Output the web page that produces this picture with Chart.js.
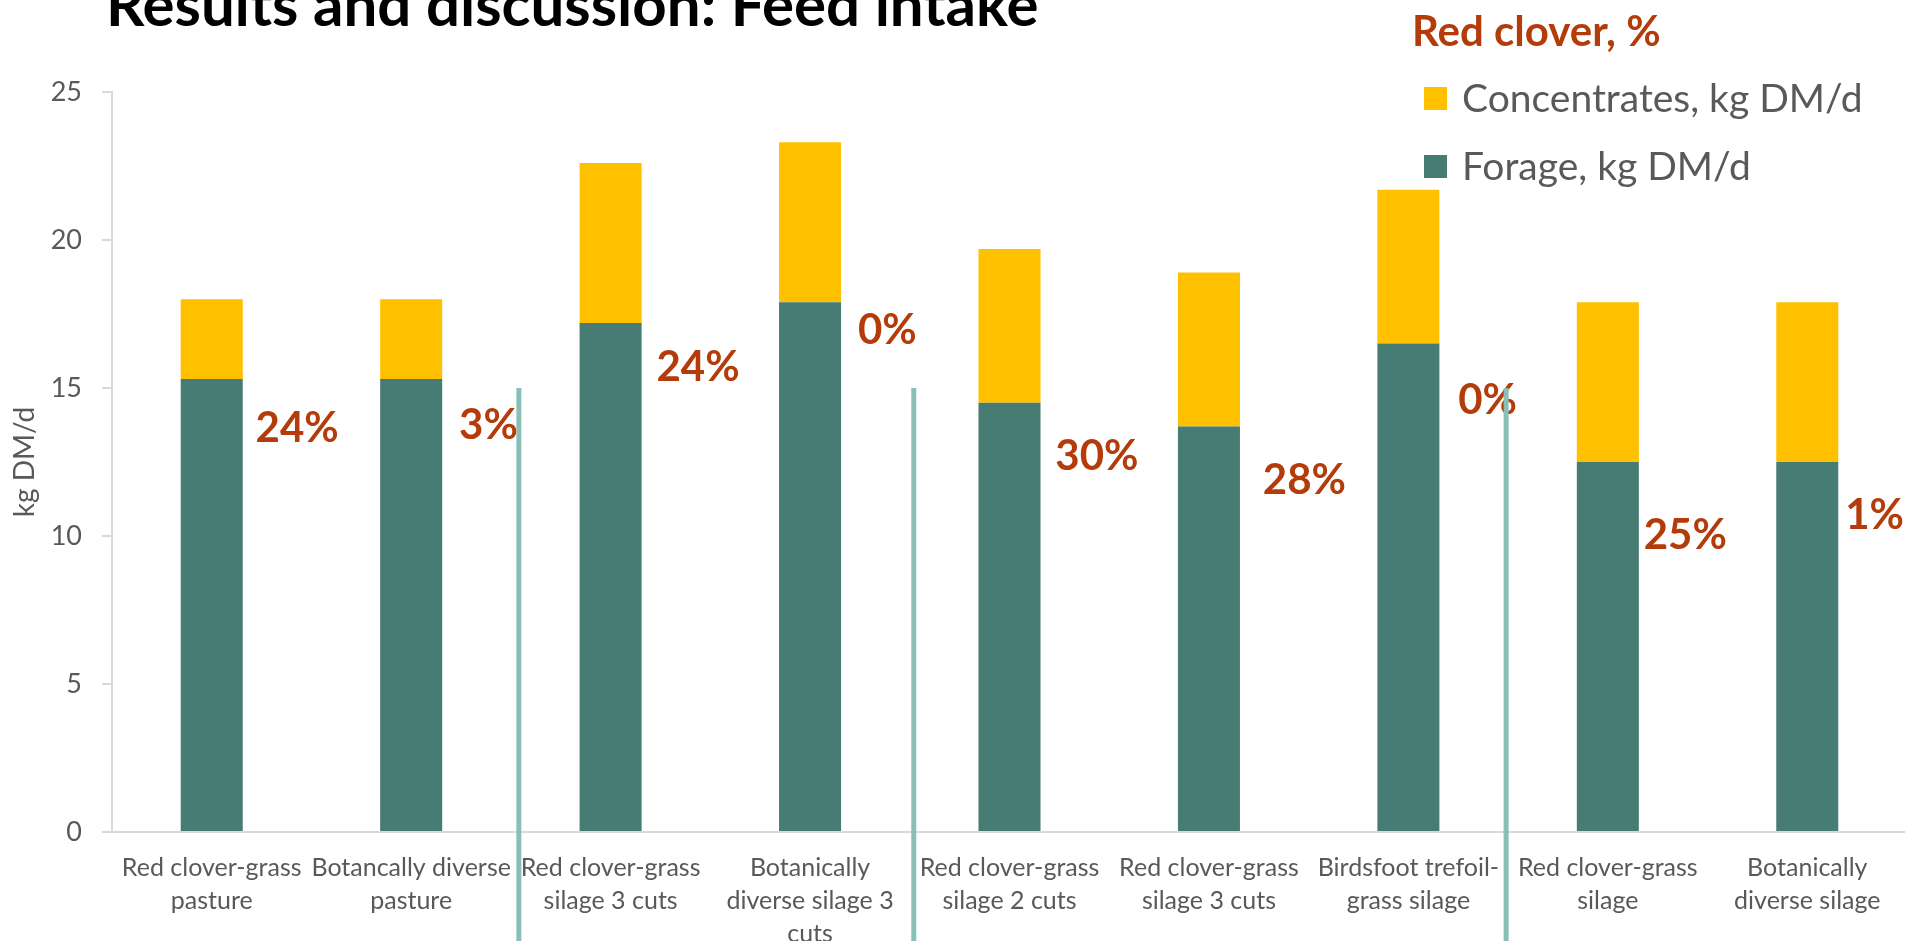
<!DOCTYPE html>
<html>
<head>
<meta charset="utf-8">
<title>Results and discussion: Feed intake</title>
<script src="https://cdn.jsdelivr.net/npm/chart.js@4.4.1/dist/chart.umd.min.js"></script>
<style>
  html, body { margin: 0; padding: 0; background: #fff; overflow: hidden; }
  #wrap { position: relative; width: 1910px; height: 941px; }
</style>
</head>
<body>
<div id="wrap"><canvas id="chart"></canvas></div>
<script>
var categories = [
  ['Red clover-grass', 'pasture'],
  ['Botancally diverse', 'pasture'],
  ['Red clover-grass', 'silage 3 cuts'],
  ['Botanically', 'diverse silage 3', 'cuts'],
  ['Red clover-grass', 'silage 2 cuts'],
  ['Red clover-grass', 'silage 3 cuts'],
  ['Birdsfoot trefoil-', 'grass silage'],
  ['Red clover-grass', 'silage'],
  ['Botanically', 'diverse silage']
];
var forage = [15.3, 15.3, 17.2, 17.9, 14.5, 13.7, 16.5, 12.5, 12.5];
var concentrates = [2.7, 2.7, 5.4, 5.4, 5.2, 5.2, 5.2, 5.4, 5.4];
var redClover = ['24%', '3%', '24%', '0%', '30%', '28%', '0%', '25%', '1%'];
var yTicks = [0, 5, 10, 15, 20, 25];

// where the red clover figures sit, in axis units (category offset, kg DM/d)
var cloverLabelX = [0.22, 0.24, 0.23, 0.24, 0.23, 0.27, 0.25, 0.18, 0.19];
var cloverLabelY = [13.65, 13.75, 15.71, 16.96, 12.7, 11.89, 14.59, 10.03, 10.68];
// treatment groups are split by lines between these categories
var dividers = [1.54, 3.52, 6.49];
var dividerTop = 15;

var FONT = 'Lato, "Open Sans", sans-serif';
var RUST = '#B33C0A';
var GREY = '#595959';

Chart.defaults.font.family = FONT;
Chart.defaults.color = GREY;

// slide title, cut off at the top edge like the original
var slideTitle = {
  id: 'slideTitle',
  afterDraw: function (chart) {
    var ctx = chart.ctx;
    ctx.save();
    ctx.font = 'bold 60px ' + FONT;
    ctx.fillStyle = '#000';
    ctx.textAlign = 'left';
    ctx.textBaseline = 'alphabetic';
    ctx.fillText('Results and discussion: Feed intake', 106, 26);
    ctx.restore();
  }
};

// red clover share written next to each bar, then the group dividers on top
var cloverLabels = {
  id: 'cloverLabels',
  afterDatasetsDraw: function (chart) {
    var ctx = chart.ctx, x = chart.scales.x, y = chart.scales.y;
    ctx.save();
    ctx.font = 'bold 42px ' + FONT;
    ctx.fillStyle = RUST;
    ctx.textAlign = 'left';
    ctx.textBaseline = 'middle';
    redClover.forEach(function (txt, i) {
      ctx.fillText(txt, x.getPixelForValue(i + cloverLabelX[i]), y.getPixelForValue(cloverLabelY[i]));
    });

    ctx.strokeStyle = '#89BFB6';
    ctx.lineWidth = 5;
    dividers.forEach(function (d) {
      var px = x.getPixelForValue(d);
      ctx.beginPath();
      ctx.moveTo(px, y.getPixelForValue(dividerTop));
      ctx.lineTo(px, chart.height);
      ctx.stroke();
    });
    ctx.restore();
  }
};

// legend box in the top right corner, headed by "Red clover, %"
var cornerLegend = {
  id: 'cornerLegend',
  afterDraw: function (chart) {
    var ctx = chart.ctx;
    var items = chart.data.datasets.slice().reverse();
    ctx.save();
    ctx.textAlign = 'left';
    ctx.textBaseline = 'alphabetic';
    ctx.font = 'bold 42px ' + FONT;
    ctx.fillStyle = RUST;
    ctx.fillText('Red clover, %', 1412, 46);

    ctx.font = '39px ' + FONT;
    ctx.textBaseline = 'middle';
    items.forEach(function (ds, i) {
      var cy = 99 + i * 68;
      ctx.fillStyle = ds.backgroundColor;
      ctx.fillRect(1424, cy - 12, 23, 23);
      ctx.fillStyle = GREY;
      ctx.fillText(ds.label, 1462, cy);
    });
    ctx.restore();
  }
};

new Chart(document.getElementById('chart'), {
  type: 'bar',
  data: {
    labels: categories,
    datasets: [{
      label: 'Forage, kg DM/d',
      data: forage,
      backgroundColor: '#467C73',
      borderWidth: 0
    }, {
      label: 'Concentrates, kg DM/d',
      data: concentrates,
      backgroundColor: '#FFC000',
      borderWidth: 0
    }]
  },
  options: {
    responsive: true,
    maintainAspectRatio: false,
    animation: false,
    categoryPercentage: 1,
    barPercentage: 0.311,
    layout: { padding: { top: 92, right: 3, left: 0, bottom: 0 } },
    plugins: {
      legend: { display: false },
      tooltip: { enabled: false }
    },
    scales: {
      x: {
        stacked: true,
        grid: { display: false },
        border: { display: true, color: '#D9D9D9', width: 2 },
        ticks: {
          color: GREY,
          font: { size: 25, lineHeight: 1.32 },
          padding: 11,
          maxRotation: 0,
          autoSkip: false
        },
        afterFit: function (s) { s.height = 109; }
      },
      y: {
        stacked: true,
        min: 0,
        max: 25,
        grid: { drawOnChartArea: false, drawTicks: true, tickLength: 10, color: '#D9D9D9', lineWidth: 2 },
        border: { display: true, color: '#D9D9D9', width: 2 },
        ticks: { color: GREY, font: { size: 27 }, padding: 20 },
        afterBuildTicks: function (s) {
          s.ticks = yTicks.map(function (v) { return { value: v }; });
        },
        title: {
          display: true,
          text: 'kg DM/d',
          color: GREY,
          font: { size: 28 },
          padding: { top: 8, bottom: 0 }
        },
        afterFit: function (s) { s.width = 112; }
      }
    }
  },
  plugins: [slideTitle, cloverLabels, cornerLegend]
});
</script>
</body>
</html>
